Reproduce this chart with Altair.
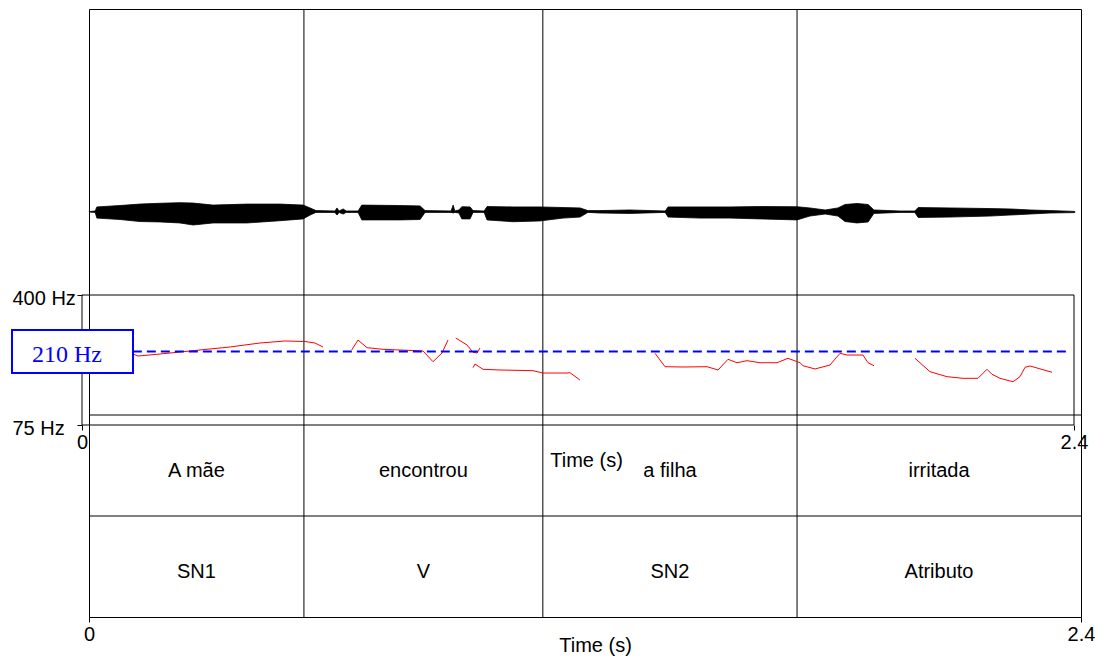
import altair as alt
import pandas as pd

# ---------------- data ----------------
# waveform envelope (time s, upper / lower amplitude)
wave_t = [0.000, 0.015, 0.019, 0.075, 0.123, 0.172, 0.220, 0.252, 0.300, 0.382, 0.462, 0.518,
          0.535, 0.549, 0.595, 0.600, 0.605, 0.615, 0.622, 0.651, 0.660, 0.752, 0.801, 0.813,
          0.876, 0.881, 0.885, 0.895, 0.902, 0.922, 0.929, 0.956, 0.963, 1.026, 1.091, 1.147,
          1.188, 1.207, 1.236, 1.309, 1.394, 1.401, 1.478, 1.551, 1.623, 1.713, 1.744, 1.781,
          1.812, 1.829, 1.858, 1.885, 1.899, 1.962, 1.998, 2.006, 2.083, 2.180, 2.228, 2.277,
          2.325, 2.385]
wave_hi = [0.002, 0.005, 0.025, 0.032, 0.039, 0.043, 0.046, 0.044, 0.034, 0.039, 0.039, 0.034,
           0.020, 0.007, 0.005, 0.020, 0.005, 0.015, 0.005, 0.005, 0.034, 0.032, 0.030, 0.007,
           0.005, 0.034, 0.005, 0.010, 0.026, 0.025, 0.007, 0.005, 0.027, 0.025, 0.025, 0.022,
           0.020, 0.007, 0.007, 0.010, 0.005, 0.025, 0.025, 0.025, 0.027, 0.026, 0.020, 0.010,
           0.020, 0.037, 0.042, 0.037, 0.010, 0.005, 0.005, 0.022, 0.020, 0.017, 0.015, 0.010,
           0.007, 0.003]
wave_lo = [0.000, -0.002, -0.030, -0.037, -0.047, -0.049, -0.054, -0.064, -0.054, -0.054, -0.043, -0.034,
           -0.015, -0.002, -0.002, -0.015, -0.002, -0.010, -0.002, -0.002, -0.039, -0.039, -0.037, -0.002,
           -0.002, -0.005, -0.002, -0.005, -0.034, -0.034, -0.002, -0.002, -0.039, -0.048, -0.044, -0.030,
           -0.025, -0.002, -0.005, -0.007, -0.002, -0.025, -0.030, -0.030, -0.034, -0.039, -0.020, -0.010,
           -0.020, -0.047, -0.054, -0.049, -0.007, -0.002, -0.002, -0.027, -0.025, -0.020, -0.015, -0.010,
           -0.005, -0.003]

# pitch contour (segment id, time s, F0 Hz)
pitch_seg = [1]*10 + [2]*9 + [3]*5 + [4]*9 + [5]*20 + [6]*13
pitch_t = [0.1234, 0.1355, 0.1887, 0.2855, 0.3581, 0.4306, 0.4911, 0.5395, 0.5637, 0.5831,
           0.6525, 0.6678, 0.6895, 0.7282, 0.8105, 0.8250, 0.8492, 0.8710, 0.8855,
           0.9041, 0.9315, 0.9460, 0.9557, 0.9629,
           0.9460, 0.9508, 0.9702, 1.0113, 1.0911, 1.1153, 1.1734, 1.1806, 1.2048,
           1.3863, 1.4105, 1.4540, 1.5121, 1.5387, 1.5629, 1.5847, 1.6089, 1.6403, 1.6815,
           1.7081, 1.7371, 1.7444, 1.7734, 1.8097, 1.8339, 1.8508, 1.8895, 1.9016, 1.9161,
           2.0153, 2.0516, 2.0927, 2.1314, 2.1677, 2.1895, 2.2016, 2.2210, 2.2524, 2.2694,
           2.2815, 2.2936, 2.3468]
pitch_hz = [203.7, 198.7, 203.7, 214.1, 222.1, 233.1, 238.8, 237.4, 233.1, 222.1,
            214.1, 241.6, 220.2, 215.9, 212.2, 211.4, 184.9, 206.3, 241.6,
            247.5, 227.6, 208.1, 206.3, 219.4,
            171.1, 179.5, 167.6, 166.1, 164.6, 159.6, 159.6, 160.3, 145.3,
            205.5, 173.4, 172.7, 173.4, 166.1, 190.6, 182.5, 187.3, 182.5, 182.5,
            193.0, 182.5, 175.6, 168.3, 177.2, 205.5, 201.2, 201.2, 182.5, 175.6,
            193.0, 162.4, 152.0, 148.7, 148.7, 167.6, 156.9, 148.7, 142.0, 152.0,
            172.0, 175.0, 161.1]

# pitch range and reference line
pitch_min, pitch_max = 75, 400
ref_hz = 210
ref_t0, ref_t1 = 0.123, 2.388
t_min, t_max = 0.0, 2.4

# TextGrid
boundaries = [0.520, 1.098, 1.713]
tier1_labels = ["A mãe", "encontrou", "a filha", "irritada"]
tier2_labels = ["SN1", "V", "SN2", "Atributo"]
interval_starts = [0.0, 0.520, 1.098, 1.713]
interval_ends = [0.520, 1.098, 1.713, 2.4]

# ---------------- frames ----------------
wave_df = pd.DataFrame({"t": wave_t, "hi": wave_hi, "lo": wave_lo})
pitch_df = pd.DataFrame({"seg": pitch_seg, "t": pitch_t, "f0": pitch_hz})
ref_df = pd.DataFrame({"t0": [ref_t0], "t1": [ref_t1], "f0": [ref_hz]})
pframe_df = pd.DataFrame({"t0": [t_min], "t1": [t_max], "f_lo": [pitch_min], "f_hi": [pitch_max]})
bounds_df = pd.DataFrame({"t": boundaries})
tierline_df = pd.DataFrame({"row": [1, 2]})
labels_df = pd.DataFrame({
    "start": interval_starts * 2,
    "end": interval_ends * 2,
    "label": tier1_labels + tier2_labels,
    "row": [1.5] * 4 + [0.5] * 4,
})

W, H = 992, 608
SANS = "Liberation Sans"
SERIF = "Liberation Serif"

x_main = alt.Scale(domain=[t_min, t_max], nice=False, zero=False)
x_pitch = alt.Scale(domain=[t_min, t_max], nice=False, zero=False, range=[-7, W - 7])
y_wave = alt.Scale(domain=[-1, 1], range=[406, 0], nice=False)
y_tier = alt.Scale(domain=[0, 2], range=[H, 406], nice=False, zero=False)
y_pitch = alt.Scale(type="pow", exponent=0.25, domain=[pitch_min, pitch_max],
                    range=[416, 286], nice=False, zero=False)

main_axis = alt.Axis(values=[0, 2.4], format=".2~f", title="Time (s)", orient="bottom",
                     domain=False, ticks=True, tickSize=5, tickColor="black",
                     labelFont=SANS, labelFontSize=20, labelColor="black", labelPadding=2,
                     labelFlush=False,
                     titleFont=SANS, titleFontSize=20, titleFontWeight="normal",
                     titleColor="black", titleY=28, titleBaseline="middle", titleX=506,
                     grid=False)
pitch_x_axis = alt.Axis(values=[0, 2.4], format=".2~f", title="Time (s)", orient="bottom",
                        offset=-192, domain=False, ticks=True, tickSize=5, tickColor="black",
                        labelFont=SANS, labelFontSize=20, labelColor="black", labelPadding=2,
                        labelFlush=False,
                        titleFont=SANS, titleFontSize=20, titleFontWeight="normal",
                        titleColor="black", titleY=35, titleBaseline="middle", titleX=497,
                        grid=False)
pitch_y_axis = alt.Axis(values=[pitch_min, pitch_max], labelExpr="datum.value + ' Hz'",
                        title=None, orient="left", offset=7, domain=False, tickSize=5,
                        tickColor="black", labelFont=SANS, labelFontSize=20, labelColor="black",
                        labelAlign="left", labelPadding=65, labelOffset=3, labelFlush=False,
                        grid=False)

# ---------------- group A: sound + TextGrid ----------------
wave = alt.Chart(wave_df).mark_area(color="black", stroke="black", strokeWidth=0.8).encode(
    x=alt.X("t:Q", scale=x_main, axis=main_axis),
    y=alt.Y("hi:Q", scale=y_wave, axis=None),
    y2="lo:Q",
)
tier_lines = alt.Chart(tierline_df).mark_rule(color="black", strokeWidth=1).encode(
    y=alt.Y("row:Q", scale=y_tier, axis=None)
)
tier_text = alt.Chart(labels_df).transform_calculate(
    mid="(datum.start + datum.end) / 2"
).mark_text(font=SANS, fontSize=20, color="black", baseline="middle", dy=5).encode(
    x=alt.X("mid:Q", scale=x_main),
    y=alt.Y("row:Q", scale=y_tier, axis=None),
    text="label:N",
)
bounds = alt.Chart(bounds_df).mark_rule(color="black", strokeWidth=1).encode(
    x=alt.X("t:Q", scale=x_main)
)
groupA = alt.layer(wave, alt.layer(tier_lines, tier_text), bounds).resolve_scale(y="independent")

# ---------------- group B: pitch ----------------
pframe = alt.Chart(pframe_df).mark_rect(fillOpacity=0, stroke="black", strokeWidth=1).encode(
    x=alt.X("t0:Q", scale=x_pitch, axis=pitch_x_axis),
    x2="t1:Q",
    y=alt.Y("f_lo:Q", scale=y_pitch, axis=pitch_y_axis),
    y2="f_hi:Q",
)
pline = alt.Chart(pitch_df).mark_line(color="#ff0000", strokeWidth=1).encode(
    x=alt.X("t:Q", scale=x_pitch),
    y=alt.Y("f0:Q", scale=y_pitch),
    detail="seg:N",
)
dashed = alt.Chart(ref_df).mark_rule(color="#0000ff", strokeWidth=2, strokeDash=[9, 5]).encode(
    x=alt.X("t0:Q", scale=x_pitch),
    x2="t1:Q",
    y=alt.Y("f0:Q", scale=y_pitch),
)
box = alt.Chart(ref_df).mark_rect(fill="white", stroke="#0000ff", strokeWidth=2).encode(
    x=alt.value(-77), x2=alt.value(44), y=alt.value(321), y2=alt.value(364)
)
label = alt.Chart(ref_df).transform_calculate(
    txt="datum.f0 + ' Hz'"
).mark_text(font=SERIF, fontSize=24, color="#0000ff", baseline="middle", dy=3).encode(
    x=alt.value(-22),
    y=alt.Y("f0:Q", scale=y_pitch),
    text="txt:N",
)
groupB = alt.layer(pframe, pline, dashed, box, label)

chart = alt.layer(groupA, groupB).resolve_scale(x="independent", y="independent").properties(
    width=W, height=H,
    autosize=alt.AutoSizeParams(type="none"),
    padding={"left": 81, "top": 1, "right": 14, "bottom": 39},
    background="white",
).configure_view(stroke="black", strokeWidth=1)

chart.save("out.html", embed_options={"renderer": "svg", "actions": False})
